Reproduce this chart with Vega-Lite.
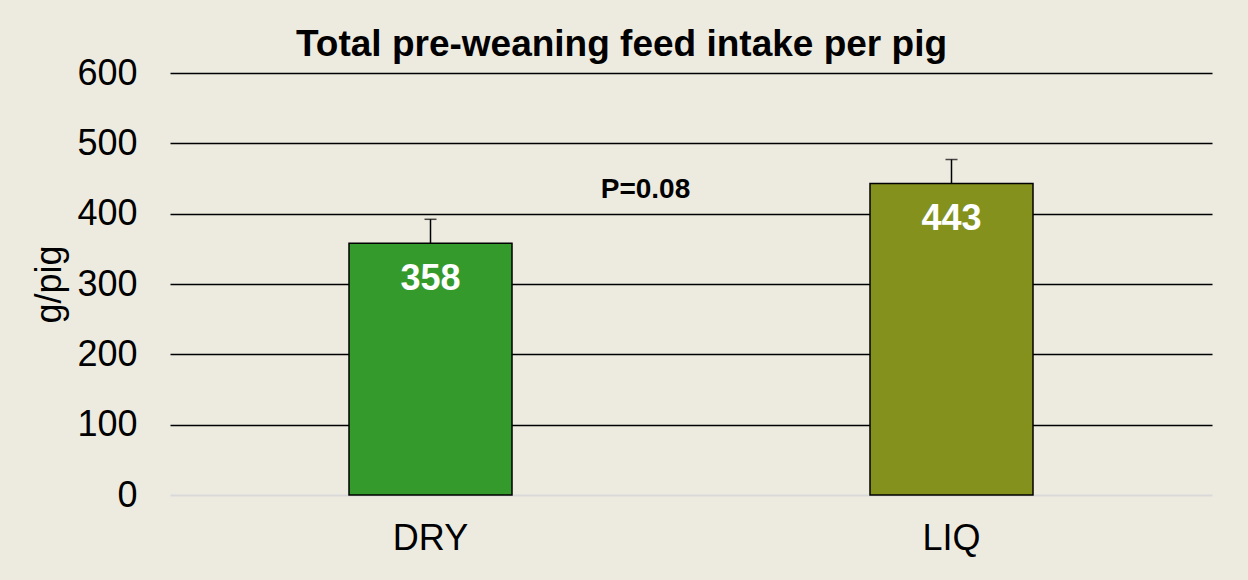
{
  "$schema": "https://vega.github.io/schema/vega-lite/v6.json",
  "autosize": "none",
  "width": 1042,
  "height": 422,
  "padding": {"left": 170, "top": 73, "right": 36, "bottom": 85},
  "background": "#EDEBE0",
  "config": {"font": "Liberation Sans", "view": {"stroke": null}},
  "title": {
    "text": "Total pre-weaning feed intake per pig",
    "anchor": "middle",
    "frame": "bounds",
    "offset": -38,
    "baseline": "alphabetic",
    "fontSize": 37,
    "fontWeight": "bold",
    "color": "black",
    "font": "Liberation Sans"
  },
  "datasets": {
    "bars": [
      {"diet": "DRY", "intake": 358, "upper": 392},
      {"diet": "LIQ", "intake": 443, "upper": 477}
    ],
    "note": [{"diet": "DRY", "v": 434, "label": "P=0.08"}]
  },
  "data": {"name": "bars"},
  "encoding": {
    "x": {
      "field": "diet",
      "type": "nominal",
      "sort": ["DRY", "LIQ"],
      "scale": {"paddingInner": 0, "paddingOuter": 0},
      "axis": {
        "title": null,
        "labelAngle": 0,
        "labelFontSize": 36,
        "labelColor": "black",
        "labelPadding": 26,
        "domain": false,
        "ticks": false
      }
    }
  },
  "layer": [
    {
      "mark": {"type": "rule", "stroke": "black", "strokeWidth": 1.5},
      "encoding": {
        "y": {"field": "intake", "type": "quantitative"},
        "y2": {"field": "upper"}
      }
    },
    {
      "mark": {"type": "tick", "color": "black", "size": 12, "thickness": 1.5},
      "encoding": {
        "y": {"field": "upper", "type": "quantitative"}
      }
    },
    {
      "mark": {"type": "bar", "size": 163, "stroke": "black", "strokeWidth": 1.5},
      "encoding": {
        "y": {
          "field": "intake",
          "type": "quantitative",
          "scale": {"domain": [0, 600], "nice": false},
          "axis": {
            "values": [0, 100, 200, 300, 400, 500, 600],
            "title": "g/pig",
            "titleFontSize": 36,
            "titleFontWeight": "normal",
            "titleColor": "black",
            "titleAngle": 270,
            "titleX": -121,
            "titleY": 211,
            "titleAlign": "center",
            "titleBaseline": "middle",
            "labelFontSize": 36,
            "labelColor": "black",
            "labelPadding": 33,
            "domain": false,
            "ticks": false,
            "gridColor": {"condition": {"test": "datum.value === 0", "value": "#D9D9D9"}, "value": "black"},
            "gridWidth": {"condition": {"test": "datum.value === 0", "value": 2}, "value": 1.5},
            "gridOpacity": 1
          }
        },
        "color": {
          "field": "diet",
          "type": "nominal",
          "scale": {"domain": ["DRY", "LIQ"], "range": ["#359A2C", "#84921D"]},
          "legend": null
        }
      }
    },
    {
      "mark": {"type": "text", "color": "white", "fontSize": 36, "fontWeight": "bold", "baseline": "middle", "dy": 36},
      "encoding": {
        "y": {"field": "intake", "type": "quantitative"},
        "text": {"field": "intake", "type": "quantitative"}
      }
    },
    {
      "data": {"name": "note"},
      "mark": {"type": "text", "color": "black", "fontSize": 28, "fontWeight": "bold", "baseline": "middle", "dx": 215},
      "encoding": {
        "y": {"field": "v", "type": "quantitative"},
        "text": {"field": "label"}
      }
    }
  ]
}
